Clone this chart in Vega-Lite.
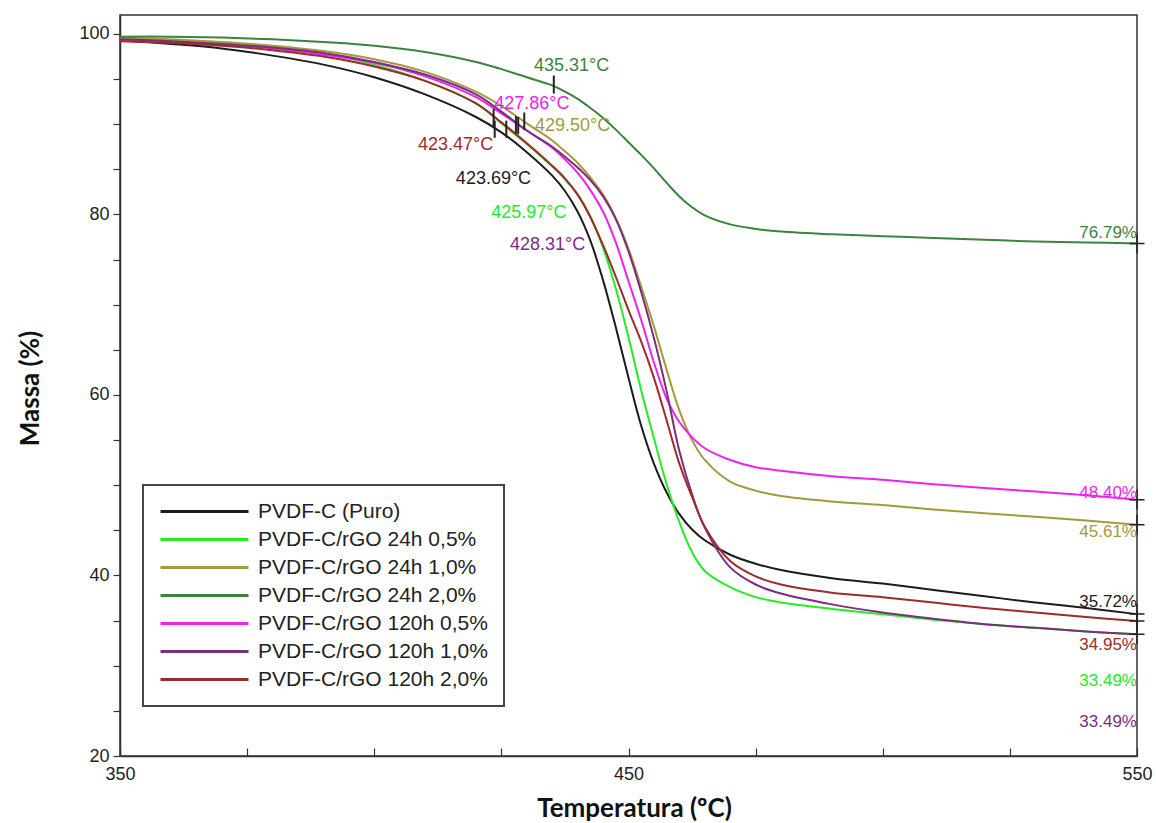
{
  "$schema": "https://vega.github.io/schema/vega-lite/v6.json",
  "width": 1017,
  "height": 741,
  "autosize": "none",
  "padding": {"left": 120, "top": 15, "right": 19, "bottom": 67},
  "background": "white",
  "config": {
    "view": {"stroke": "#333333", "strokeWidth": 1.5},
    "font": "Liberation Sans",
    "axis": {
      "grid": false,
      "domainColor": "#333333",
      "domainWidth": 1.5,
      "tickColor": "#333333",
      "tickWidth": 1.2,
      "labelFont": "Liberation Sans",
      "labelFontSize": 18,
      "labelColor": "#222222",
      "labelOverlap": false,
      "titleFont": "Lato",
      "titleFontWeight": "bold",
      "titleFontSize": 26,
      "titleColor": "#111111"
    },
    "legend": {"strokeWidth": 2}
  },
  "datasets": {
    "curves": [
      {"T": 350, "PVDF-C (Puro)": 99.3, "PVDF-C/rGO 24h 0,5%": 99.5, "PVDF-C/rGO 24h 1,0%": 99.6, "PVDF-C/rGO 24h 2,0%": 99.7, "PVDF-C/rGO 120h 0,5%": 99.3, "PVDF-C/rGO 120h 1,0%": 99.4, "PVDF-C/rGO 120h 2,0%": 99.2},
      {"T": 360, "PVDF-C (Puro)": 98.9, "PVDF-C/rGO 24h 0,5%": 99.3, "PVDF-C/rGO 24h 1,0%": 99.4, "PVDF-C/rGO 24h 2,0%": 99.7, "PVDF-C/rGO 120h 0,5%": 99.1, "PVDF-C/rGO 120h 1,0%": 99.2, "PVDF-C/rGO 120h 2,0%": 99.0},
      {"T": 370, "PVDF-C (Puro)": 98.4, "PVDF-C/rGO 24h 0,5%": 99.0, "PVDF-C/rGO 24h 1,0%": 99.1, "PVDF-C/rGO 24h 2,0%": 99.6, "PVDF-C/rGO 120h 0,5%": 98.8, "PVDF-C/rGO 120h 1,0%": 98.9, "PVDF-C/rGO 120h 2,0%": 98.7},
      {"T": 380, "PVDF-C (Puro)": 97.6, "PVDF-C/rGO 24h 0,5%": 98.5, "PVDF-C/rGO 24h 1,0%": 98.7, "PVDF-C/rGO 24h 2,0%": 99.4, "PVDF-C/rGO 120h 0,5%": 98.4, "PVDF-C/rGO 120h 1,0%": 98.5, "PVDF-C/rGO 120h 2,0%": 98.2},
      {"T": 390, "PVDF-C (Puro)": 96.6, "PVDF-C/rGO 24h 0,5%": 97.8, "PVDF-C/rGO 24h 1,0%": 98.1, "PVDF-C/rGO 24h 2,0%": 99.1, "PVDF-C/rGO 120h 0,5%": 97.7, "PVDF-C/rGO 120h 1,0%": 97.9, "PVDF-C/rGO 120h 2,0%": 97.5},
      {"T": 400, "PVDF-C (Puro)": 95.2, "PVDF-C/rGO 24h 0,5%": 96.6, "PVDF-C/rGO 24h 1,0%": 97.2, "PVDF-C/rGO 24h 2,0%": 98.7, "PVDF-C/rGO 120h 0,5%": 96.8, "PVDF-C/rGO 120h 1,0%": 96.9, "PVDF-C/rGO 120h 2,0%": 96.4},
      {"T": 410, "PVDF-C (Puro)": 93.3, "PVDF-C/rGO 24h 0,5%": 94.8, "PVDF-C/rGO 24h 1,0%": 95.8, "PVDF-C/rGO 24h 2,0%": 98.0, "PVDF-C/rGO 120h 0,5%": 95.3, "PVDF-C/rGO 120h 1,0%": 95.5, "PVDF-C/rGO 120h 2,0%": 94.8},
      {"T": 420, "PVDF-C (Puro)": 90.8, "PVDF-C/rGO 24h 0,5%": 92.3, "PVDF-C/rGO 24h 1,0%": 93.6, "PVDF-C/rGO 24h 2,0%": 96.9, "PVDF-C/rGO 120h 0,5%": 93.0, "PVDF-C/rGO 120h 1,0%": 93.3, "PVDF-C/rGO 120h 2,0%": 92.3},
      {"T": 425, "PVDF-C (Puro)": 89.1, "PVDF-C/rGO 24h 0,5%": 90.1, "PVDF-C/rGO 24h 1,0%": 92.0, "PVDF-C/rGO 24h 2,0%": 96.1, "PVDF-C/rGO 120h 0,5%": 91.2, "PVDF-C/rGO 120h 1,0%": 91.4, "PVDF-C/rGO 120h 2,0%": 90.2},
      {"T": 430, "PVDF-C (Puro)": 86.9, "PVDF-C/rGO 24h 0,5%": 87.8, "PVDF-C/rGO 24h 1,0%": 90.1, "PVDF-C/rGO 24h 2,0%": 95.2, "PVDF-C/rGO 120h 0,5%": 89.3, "PVDF-C/rGO 120h 1,0%": 89.3, "PVDF-C/rGO 120h 2,0%": 87.9},
      {"T": 435, "PVDF-C (Puro)": 84.3, "PVDF-C/rGO 24h 0,5%": 85.3, "PVDF-C/rGO 24h 1,0%": 88.2, "PVDF-C/rGO 24h 2,0%": 94.3, "PVDF-C/rGO 120h 0,5%": 87.4, "PVDF-C/rGO 120h 1,0%": 87.5, "PVDF-C/rGO 120h 2,0%": 85.4},
      {"T": 437.5, "PVDF-C (Puro)": 82.6, "PVDF-C/rGO 24h 0,5%": 83.9, "PVDF-C/rGO 24h 1,0%": 87.0, "PVDF-C/rGO 24h 2,0%": 93.6, "PVDF-C/rGO 120h 0,5%": 86.1, "PVDF-C/rGO 120h 1,0%": 86.4, "PVDF-C/rGO 120h 2,0%": 84.0},
      {"T": 440, "PVDF-C (Puro)": 80.3, "PVDF-C/rGO 24h 0,5%": 82.2, "PVDF-C/rGO 24h 1,0%": 85.7, "PVDF-C/rGO 24h 2,0%": 92.8, "PVDF-C/rGO 120h 0,5%": 84.6, "PVDF-C/rGO 120h 1,0%": 85.2, "PVDF-C/rGO 120h 2,0%": 82.2},
      {"T": 442.5, "PVDF-C (Puro)": 77.1, "PVDF-C/rGO 24h 0,5%": 79.8, "PVDF-C/rGO 24h 1,0%": 84.1, "PVDF-C/rGO 24h 2,0%": 91.8, "PVDF-C/rGO 120h 0,5%": 82.7, "PVDF-C/rGO 120h 1,0%": 83.8, "PVDF-C/rGO 120h 2,0%": 79.7},
      {"T": 445, "PVDF-C (Puro)": 72.7, "PVDF-C/rGO 24h 0,5%": 76.3, "PVDF-C/rGO 24h 1,0%": 82.2, "PVDF-C/rGO 24h 2,0%": 90.7, "PVDF-C/rGO 120h 0,5%": 80.3, "PVDF-C/rGO 120h 1,0%": 82.0, "PVDF-C/rGO 120h 2,0%": 76.6},
      {"T": 447.5, "PVDF-C (Puro)": 67.5, "PVDF-C/rGO 24h 0,5%": 71.8, "PVDF-C/rGO 24h 1,0%": 79.6, "PVDF-C/rGO 24h 2,0%": 89.4, "PVDF-C/rGO 120h 0,5%": 76.9, "PVDF-C/rGO 120h 1,0%": 79.5, "PVDF-C/rGO 120h 2,0%": 73.1},
      {"T": 450, "PVDF-C (Puro)": 61.9, "PVDF-C/rGO 24h 0,5%": 66.4, "PVDF-C/rGO 24h 1,0%": 76.2, "PVDF-C/rGO 24h 2,0%": 88.0, "PVDF-C/rGO 120h 0,5%": 72.6, "PVDF-C/rGO 120h 1,0%": 75.9, "PVDF-C/rGO 120h 2,0%": 69.4},
      {"T": 452.5, "PVDF-C (Puro)": 56.6, "PVDF-C/rGO 24h 0,5%": 60.5, "PVDF-C/rGO 24h 1,0%": 72.0, "PVDF-C/rGO 24h 2,0%": 86.6, "PVDF-C/rGO 120h 0,5%": 68.3, "PVDF-C/rGO 120h 1,0%": 71.4, "PVDF-C/rGO 120h 2,0%": 65.9},
      {"T": 455, "PVDF-C (Puro)": 52.4, "PVDF-C/rGO 24h 0,5%": 55.2, "PVDF-C/rGO 24h 1,0%": 67.6, "PVDF-C/rGO 24h 2,0%": 85.1, "PVDF-C/rGO 120h 0,5%": 63.6, "PVDF-C/rGO 120h 1,0%": 66.3, "PVDF-C/rGO 120h 2,0%": 61.9},
      {"T": 457.5, "PVDF-C (Puro)": 49.2, "PVDF-C/rGO 24h 0,5%": 50.1, "PVDF-C/rGO 24h 1,0%": 62.8, "PVDF-C/rGO 24h 2,0%": 83.5, "PVDF-C/rGO 120h 0,5%": 59.6, "PVDF-C/rGO 120h 1,0%": 60.4, "PVDF-C/rGO 120h 2,0%": 57.2},
      {"T": 460, "PVDF-C (Puro)": 46.8, "PVDF-C/rGO 24h 0,5%": 45.9, "PVDF-C/rGO 24h 1,0%": 58.3, "PVDF-C/rGO 24h 2,0%": 82.0, "PVDF-C/rGO 120h 0,5%": 57.0, "PVDF-C/rGO 120h 1,0%": 53.8, "PVDF-C/rGO 120h 2,0%": 52.4},
      {"T": 462.5, "PVDF-C (Puro)": 45.1, "PVDF-C/rGO 24h 0,5%": 42.6, "PVDF-C/rGO 24h 1,0%": 55.0, "PVDF-C/rGO 24h 2,0%": 80.8, "PVDF-C/rGO 120h 0,5%": 55.3, "PVDF-C/rGO 120h 1,0%": 49.0, "PVDF-C/rGO 120h 2,0%": 48.7},
      {"T": 465, "PVDF-C (Puro)": 43.9, "PVDF-C/rGO 24h 0,5%": 40.5, "PVDF-C/rGO 24h 1,0%": 52.8, "PVDF-C/rGO 24h 2,0%": 79.9, "PVDF-C/rGO 120h 0,5%": 54.1, "PVDF-C/rGO 120h 1,0%": 45.3, "PVDF-C/rGO 120h 2,0%": 45.4},
      {"T": 470, "PVDF-C (Puro)": 42.3, "PVDF-C/rGO 24h 0,5%": 38.7, "PVDF-C/rGO 24h 1,0%": 50.4, "PVDF-C/rGO 24h 2,0%": 78.9, "PVDF-C/rGO 120h 0,5%": 52.8, "PVDF-C/rGO 120h 1,0%": 40.9, "PVDF-C/rGO 120h 2,0%": 41.6},
      {"T": 475, "PVDF-C (Puro)": 41.3, "PVDF-C/rGO 24h 0,5%": 37.6, "PVDF-C/rGO 24h 1,0%": 49.4, "PVDF-C/rGO 24h 2,0%": 78.4, "PVDF-C/rGO 120h 0,5%": 52.0, "PVDF-C/rGO 120h 1,0%": 39.0, "PVDF-C/rGO 120h 2,0%": 39.9},
      {"T": 480, "PVDF-C (Puro)": 40.6, "PVDF-C/rGO 24h 0,5%": 37.0, "PVDF-C/rGO 24h 1,0%": 48.8, "PVDF-C/rGO 24h 2,0%": 78.1, "PVDF-C/rGO 120h 0,5%": 51.6, "PVDF-C/rGO 120h 1,0%": 38.0, "PVDF-C/rGO 120h 2,0%": 39.0},
      {"T": 490, "PVDF-C (Puro)": 39.7, "PVDF-C/rGO 24h 0,5%": 36.3, "PVDF-C/rGO 24h 1,0%": 48.2, "PVDF-C/rGO 24h 2,0%": 77.8, "PVDF-C/rGO 120h 0,5%": 51.0, "PVDF-C/rGO 120h 1,0%": 36.8, "PVDF-C/rGO 120h 2,0%": 38.1},
      {"T": 500, "PVDF-C (Puro)": 39.1, "PVDF-C/rGO 24h 0,5%": 35.7, "PVDF-C/rGO 24h 1,0%": 47.8, "PVDF-C/rGO 24h 2,0%": 77.6, "PVDF-C/rGO 120h 0,5%": 50.6, "PVDF-C/rGO 120h 1,0%": 35.9, "PVDF-C/rGO 120h 2,0%": 37.6},
      {"T": 510, "PVDF-C (Puro)": 38.4, "PVDF-C/rGO 24h 0,5%": 35.1, "PVDF-C/rGO 24h 1,0%": 47.3, "PVDF-C/rGO 24h 2,0%": 77.4, "PVDF-C/rGO 120h 0,5%": 50.1, "PVDF-C/rGO 120h 1,0%": 35.2, "PVDF-C/rGO 120h 2,0%": 37.0},
      {"T": 520, "PVDF-C (Puro)": 37.7, "PVDF-C/rGO 24h 0,5%": 34.6, "PVDF-C/rGO 24h 1,0%": 46.9, "PVDF-C/rGO 24h 2,0%": 77.2, "PVDF-C/rGO 120h 0,5%": 49.7, "PVDF-C/rGO 120h 1,0%": 34.6, "PVDF-C/rGO 120h 2,0%": 36.4},
      {"T": 530, "PVDF-C (Puro)": 37.0, "PVDF-C/rGO 24h 0,5%": 34.2, "PVDF-C/rGO 24h 1,0%": 46.5, "PVDF-C/rGO 24h 2,0%": 77.0, "PVDF-C/rGO 120h 0,5%": 49.3, "PVDF-C/rGO 120h 1,0%": 34.2, "PVDF-C/rGO 120h 2,0%": 35.9},
      {"T": 540, "PVDF-C (Puro)": 36.4, "PVDF-C/rGO 24h 0,5%": 33.8, "PVDF-C/rGO 24h 1,0%": 46.1, "PVDF-C/rGO 24h 2,0%": 76.9, "PVDF-C/rGO 120h 0,5%": 48.9, "PVDF-C/rGO 120h 1,0%": 33.8, "PVDF-C/rGO 120h 2,0%": 35.4},
      {"T": 550, "PVDF-C (Puro)": 35.72, "PVDF-C/rGO 24h 0,5%": 33.49, "PVDF-C/rGO 24h 1,0%": 45.61, "PVDF-C/rGO 24h 2,0%": 76.79, "PVDF-C/rGO 120h 0,5%": 48.4, "PVDF-C/rGO 120h 1,0%": 33.49, "PVDF-C/rGO 120h 2,0%": 34.95}
    ],
    "onsetTicks": [
      {"T": 423.47, "lo": 89.8, "hi": 91.7},
      {"T": 423.69, "lo": 88.5, "hi": 90.4},
      {"T": 425.97, "lo": 88.5, "hi": 90.4},
      {"T": 427.86, "lo": 89.0, "hi": 90.9},
      {"T": 428.31, "lo": 88.9, "hi": 90.8},
      {"T": 429.5, "lo": 89.4, "hi": 91.3},
      {"T": 435.31, "lo": 93.4, "hi": 95.4}
    ],
    "ends": [
      {"T": 550, "m": 76.79},
      {"T": 550, "m": 48.4},
      {"T": 550, "m": 45.61},
      {"T": 550, "m": 35.72},
      {"T": 550, "m": 34.95},
      {"T": 550, "m": 33.49}
    ],
    "onsetLabels": [
      {"T": 438.8, "m": 96.4, "label": "435.31°C", "s": "PVDF-C/rGO 24h 2,0%"},
      {"T": 431.0, "m": 92.2, "label": "427.86°C", "s": "PVDF-C/rGO 120h 0,5%"},
      {"T": 439.0, "m": 89.75, "label": "429.50°C", "s": "PVDF-C/rGO 24h 1,0%"},
      {"T": 416.0, "m": 87.65, "label": "423.47°C", "s": "PVDF-C/rGO 120h 2,0%"},
      {"T": 423.45, "m": 83.9, "label": "423.69°C", "s": "PVDF-C (Puro)"},
      {"T": 430.4, "m": 80.2, "label": "425.97°C", "s": "PVDF-C/rGO 24h 0,5%"},
      {"T": 434.1, "m": 76.6, "label": "428.31°C", "s": "PVDF-C/rGO 120h 1,0%"}
    ],
    "endLabels": [
      {"T": 550, "m": 78.0, "label": "76.79%", "s": "PVDF-C/rGO 24h 2,0%"},
      {"T": 550, "m": 49.1, "label": "48.40%", "s": "PVDF-C/rGO 120h 0,5%"},
      {"T": 550, "m": 44.8, "label": "45.61%", "s": "PVDF-C/rGO 24h 1,0%"},
      {"T": 550, "m": 37.1, "label": "35.72%", "s": "PVDF-C (Puro)"},
      {"T": 550, "m": 32.3, "label": "34.95%", "s": "PVDF-C/rGO 120h 2,0%"},
      {"T": 550, "m": 28.3, "label": "33.49%", "s": "PVDF-C/rGO 24h 0,5%"},
      {"T": 550, "m": 23.8, "label": "33.49%", "s": "PVDF-C/rGO 120h 1,0%"}
    ]
  },
  "layer": [
    {
      "data": {"name": "curves"},
      "transform": [
        {"fold": ["PVDF-C (Puro)", "PVDF-C/rGO 24h 0,5%", "PVDF-C/rGO 24h 1,0%", "PVDF-C/rGO 24h 2,0%", "PVDF-C/rGO 120h 0,5%", "PVDF-C/rGO 120h 1,0%", "PVDF-C/rGO 120h 2,0%"], "as": ["s", "m"]}
      ],
      "mark": {"type": "line", "strokeWidth": 2, "interpolate": "catmull-rom"},
      "encoding": {
        "x": {
          "field": "T", "type": "quantitative",
          "scale": {"domain": [350, 550], "nice": false, "zero": false},
          "axis": {
            "title": "Temperatura (ºC)",
            "values": [350, 375, 400, 425, 450, 475, 500, 525, 550],
            "labelExpr": "datum.value % 100 == 50 ? datum.label : ''",
            "tickSize": -8,
            "labelPadding": 17,
            "labelFlush": false,
            "titleX": 514,
            "titleY": 52,
            "titleAlign": "center",
            "titleBaseline": "middle"
          }
        },
        "y": {
          "field": "m", "type": "quantitative",
          "scale": {"domain": [20, 102.1], "nice": false, "zero": false},
          "axis": {
            "title": "Massa (%)",
            "values": [20, 25, 30, 35, 40, 45, 50, 55, 60, 65, 70, 75, 80, 85, 90, 95, 100],
            "labelExpr": "datum.value % 20 == 0 ? datum.label : ''",
            "tickSize": 7,
            "labelPadding": 4,
            "titleX": -90,
            "titleY": 373,
            "titleAngle": -90,
            "titleAlign": "center",
            "titleBaseline": "middle"
          }
        },
        "color": {
          "field": "s", "type": "nominal",
          "scale": {
            "domain": ["PVDF-C (Puro)", "PVDF-C/rGO 24h 0,5%", "PVDF-C/rGO 24h 1,0%", "PVDF-C/rGO 24h 2,0%", "PVDF-C/rGO 120h 0,5%", "PVDF-C/rGO 120h 1,0%", "PVDF-C/rGO 120h 2,0%"],
            "range": ["#1c1c1c", "#22ee22", "#a39a3c", "#3b843b", "#ee22ee", "#7d2d7d", "#9e2b2b"]
          },
          "legend": {
            "title": null,
            "orient": "none",
            "legendX": 23,
            "legendY": 470,
            "symbolType": "stroke",
            "symbolSize": 7744,
            "symbolStrokeWidth": 3,
            "labelFont": "Liberation Sans",
            "labelFontSize": 21,
            "labelColor": "#222222",
            "labelLimit": 0,
            "labelOffset": 8,
            "padding": 16,
            "strokeColor": "#444444",
            "fillColor": "white",
            "rowPadding": 6,
            "clipHeight": 21
          }
        }
      }
    },
    {
      "data": {"name": "onsetTicks"},
      "mark": {"type": "rule", "color": "#222222", "strokeWidth": 2},
      "encoding": {
        "x": {"field": "T", "type": "quantitative"},
        "y": {"field": "lo", "type": "quantitative"},
        "y2": {"field": "hi"}
      }
    },
    {
      "data": {"name": "ends"},
      "mark": {"type": "point", "shape": "M-0.75,0H0.75M0,-1V1", "size": 400, "filled": false, "stroke": "#222222", "strokeWidth": 1.5, "opacity": 1},
      "encoding": {
        "x": {"field": "T", "type": "quantitative"},
        "y": {"field": "m", "type": "quantitative"}
      }
    },
    {
      "data": {"name": "onsetLabels"},
      "mark": {"type": "text", "font": "Liberation Sans", "fontSize": 18, "align": "center", "baseline": "middle"},
      "encoding": {
        "x": {"field": "T", "type": "quantitative"},
        "y": {"field": "m", "type": "quantitative"},
        "text": {"field": "label"},
        "color": {"field": "s", "type": "nominal", "legend": null}
      }
    },
    {
      "data": {"name": "endLabels"},
      "mark": {"type": "text", "font": "Liberation Sans", "fontSize": 17, "align": "right", "baseline": "middle"},
      "encoding": {
        "x": {"field": "T", "type": "quantitative"},
        "y": {"field": "m", "type": "quantitative"},
        "text": {"field": "label"},
        "color": {"field": "s", "type": "nominal", "legend": null}
      }
    }
  ]
}
